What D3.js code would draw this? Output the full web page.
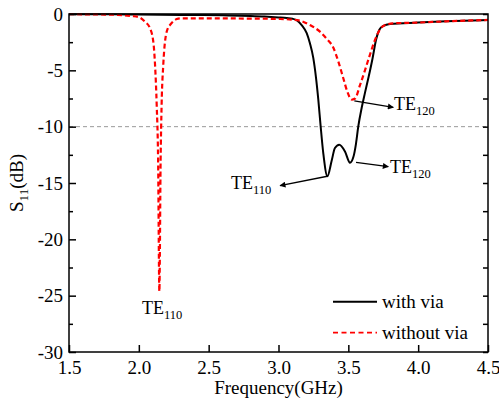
<!DOCTYPE html>
<html>
<head>
<meta charset="utf-8">
<script src="https://cdn.jsdelivr.net/npm/d3@7"></script>
<style>
  html, body { margin: 0; padding: 0; background: #fff; }
  svg { display: block; }
  text { font-family: "Liberation Serif", "Times New Roman", serif; fill: #000; }
</style>
</head>
<body>
<svg id="chart" width="499" height="403"></svg>
<script>
// S11 of the resonator with and without the shorting via (frequency in GHz, S11 in dB)
const withViaFreq = [1.5, 1.8, 2.0, 2.3, 2.6, 2.8, 2.9, 3.0, 3.06, 3.1, 3.13, 3.166, 3.202, 3.225, 3.249,
  3.268, 3.285, 3.302, 3.321, 3.35, 3.381, 3.404, 3.435, 3.476, 3.512, 3.536, 3.555, 3.571, 3.596,
  3.619, 3.645, 3.674, 3.698, 3.722, 3.751, 3.798, 4.0, 4.2, 4.5];
const withViaS11 = [-0.02, -0.03, -0.05, -0.08, -0.12, -0.17, -0.22, -0.3, -0.36, -0.42, -0.55, -0.98, -1.7, -2.6, -3.9,
  -5.6, -7.6, -10.0, -12.4, -14.4, -13.0, -11.9, -11.6, -12.2, -13.2, -12.7, -11.5, -10.0, -8.3,
  -7.0, -5.6, -3.9, -2.3, -1.4, -1.06, -0.89, -0.76, -0.65, -0.53];

const withoutViaFreq = [1.5, 1.7, 1.85, 1.95, 2.0, 2.044, 2.08, 2.104, 2.116, 2.128, 2.138, 2.147, 2.156,
  2.163, 2.175, 2.187, 2.21, 2.223, 2.271, 2.3, 2.5, 2.8, 3.0, 3.1, 3.154, 3.225, 3.297, 3.345, 3.393,
  3.428, 3.464, 3.493, 3.524, 3.548, 3.584, 3.619, 3.655, 3.691, 3.727, 3.763, 3.82, 4.0, 4.2, 4.5];
const withoutViaS11 = [-0.02, -0.04, -0.08, -0.18, -0.28, -0.68, -1.27, -2.5, -4.5, -8.1, -13.0, -24.6, -13.0,
  -8.1, -4.5, -2.5, -1.2, -0.98, -0.45, -0.38, -0.38, -0.41, -0.44, -0.5, -0.59, -0.98, -1.57, -2.2, -3.0,
  -4.2, -5.7, -6.9, -7.6, -7.5, -6.3, -5.0, -3.6, -2.3, -1.36, -0.98, -0.83, -0.76, -0.65, -0.53];

const xTickValues = [1.5, 2.0, 2.5, 3.0, 3.5, 4.0, 4.5];
const xTickLabels = ["1.5", "2.0", "2.5", "3.0", "3.5", "4.0", "4.5"];
const yTickValues = [0, -5, -10, -15, -20, -25, -30];
const yTickLabels = ["0", "-5", "-10", "-15", "-20", "-25", "-30"];
const yMinorValues = [-2.5, -7.5, -12.5, -17.5, -22.5, -27.5];

const referenceLevel = [-10];
const seriesNames = ["with via", "without via"];

// Mode annotations: arrow tail at the resonance, arrow head and label position in data units
const modeNotes = [
  { mode: "110", label: [2.023, -26.62], tail: null, head: null },
  { mode: "110", label: [2.66, -15.53], tail: [3.35, -14.4], head: [3.011, -15.24] },
  { mode: "120", label: [3.827, -8.52], tail: [3.543, -7.72], head: [3.822, -8.28] },
  { mode: "120", label: [3.798, -14.13], tail: [3.555, -13.16], head: [3.786, -13.55] }
];

const svg = d3.select("#chart");
const margin = { left: 69, right: 11, top: 14, bottom: 51 };
const W = 499, H = 403;
const x = d3.scaleLinear().domain([1.5, 4.5]).range([margin.left, W - margin.right]);
const y = d3.scaleLinear().domain([-30, 0]).range([H - margin.bottom, margin.top]);
const serif = "Liberation Serif, Times New Roman, serif";

svg.append("defs").append("clipPath").attr("id", "plotClip")
  .append("rect").attr("x", x(1.5)).attr("y", y(0) - 1)
  .attr("width", x(4.5) - x(1.5)).attr("height", y(-30) - y(0) + 1);

svg.append("defs").append("marker")
  .attr("id", "arrowHead").attr("viewBox", "0 0 10 10")
  .attr("refX", 9).attr("refY", 5)
  .attr("markerWidth", 9).attr("markerHeight", 6)
  .attr("markerUnits", "userSpaceOnUse")
  .attr("orient", "auto")
  .append("path").attr("d", "M0,0 L10,5 L0,10 Z").attr("fill", "#000");

// -10 dB reference line
svg.selectAll(".ref").data(referenceLevel).enter().append("line")
  .attr("x1", x(1.5)).attr("x2", x(4.5))
  .attr("y1", d => y(d)).attr("y2", d => y(d))
  .attr("stroke", "#9a9a9a").attr("stroke-width", 1).attr("stroke-dasharray", "4,3");

const line = d3.line().x(d => x(d[0])).y(d => y(d[1])).curve(d3.curveMonotoneX);
const withVia = withViaFreq.map((f, i) => [f, withViaS11[i]]);
const withoutVia = withoutViaFreq.map((f, i) => [f, withoutViaS11[i]]);

const plot = svg.append("g").attr("clip-path", "url(#plotClip)");
plot.append("path").datum(withVia).attr("d", line)
  .attr("fill", "none").attr("stroke", "#000").attr("stroke-width", 2);
plot.append("path").datum(withoutVia).attr("d", line)
  .attr("fill", "none").attr("stroke", "#ff0000").attr("stroke-width", 2.2)
  .attr("stroke-dasharray", "5,3");

// Frame and axes
svg.append("rect").attr("x", x(1.5)).attr("y", y(0))
  .attr("width", x(4.5) - x(1.5)).attr("height", y(-30) - y(0))
  .attr("fill", "none").attr("stroke", "#000").attr("stroke-width", 1.5);

const xAxis = d3.axisBottom(x).tickValues(xTickValues)
  .tickFormat((d, i) => xTickLabels[i]).tickSizeInner(-7).tickSizeOuter(0).tickPadding(8.5);
const gx = svg.append("g").attr("transform", `translate(0,${y(-30)})`).call(xAxis)
  .attr("font-family", serif).attr("font-size", 19);
gx.select(".domain").remove();
gx.selectAll(".tick line").attr("stroke", "#000").attr("stroke-width", 1.5);
gx.selectAll(".tick text").style("font-family", serif).attr("font-size", 19).attr("fill", "#000");

const yAxis = d3.axisLeft(y).tickValues(yTickValues)
  .tickFormat((d, i) => yTickLabels[i]).tickSizeInner(-7).tickSizeOuter(0).tickPadding(6);
const gy = svg.append("g").attr("transform", `translate(${x(1.5)},0)`).call(yAxis)
  .attr("font-family", serif).attr("font-size", 19);
gy.select(".domain").remove();
gy.selectAll(".tick line").attr("stroke", "#000").attr("stroke-width", 1.5);
gy.selectAll(".tick text").style("font-family", serif).attr("font-size", 19).attr("fill", "#000");

const yMinor = d3.axisLeft(y).tickValues(yMinorValues).tickFormat("").tickSizeInner(-4).tickSizeOuter(0);
const gym = svg.append("g").attr("transform", `translate(${x(1.5)},0)`).call(yMinor);
gym.select(".domain").remove();
gym.selectAll(".tick line").attr("stroke", "#000").attr("stroke-width", 1.5);

const yRight = d3.axisRight(y).tickValues(yTickValues.concat(yMinorValues)).tickFormat("")
  .tickSizeInner(-5).tickSizeOuter(0);
const gyr = svg.append("g").attr("transform", `translate(${x(4.5)},0)`).call(yRight);
gyr.select(".domain").remove();
gyr.selectAll(".tick line").attr("stroke", "#000").attr("stroke-width", 1.5);

// Axis titles
svg.append("text").attr("x", (x(1.5) + x(4.5)) / 2).attr("y", 394)
  .attr("text-anchor", "middle").attr("font-size", 19).text("Frequency(GHz)");

const yTitle = svg.append("text")
  .attr("transform", `translate(23,${(y(0) + y(-30)) / 2}) rotate(-90)`)
  .attr("text-anchor", "middle").attr("font-size", 19);
yTitle.append("tspan").text("S");
yTitle.append("tspan").attr("font-size", 13).attr("dy", 5).text("11");
yTitle.append("tspan").attr("dy", -5).text("(dB)");

// Mode labels with arrows
modeNotes.forEach(n => {
  if (n.tail) {
    svg.append("line")
      .attr("x1", x(n.tail[0])).attr("y1", y(n.tail[1]))
      .attr("x2", x(n.head[0])).attr("y2", y(n.head[1]))
      .attr("stroke", "#000").attr("stroke-width", 1.3)
      .attr("marker-end", "url(#arrowHead)");
  }
  const t = svg.append("text").attr("x", x(n.label[0])).attr("y", y(n.label[1]))
    .attr("font-size", 18);
  t.append("tspan").text("TE");
  t.append("tspan").attr("font-size", 12.5).attr("dy", 5).text(n.mode);
});

// Legend
const legend = svg.append("g");
seriesNames.forEach((name, i) => {
  const ly = 301.7 + i * 31;
  legend.append("line").attr("x1", 333).attr("x2", 377).attr("y1", ly).attr("y2", ly)
    .attr("stroke", i === 0 ? "#000" : "#ff0000").attr("stroke-width", i === 0 ? 2 : 1.8)
    .attr("stroke-dasharray", i === 0 ? null : "5,3.5");
  legend.append("text").attr("x", 382).attr("y", ly + 6.5).attr("font-size", 19).text(name);
});
</script>
</body>
</html>
